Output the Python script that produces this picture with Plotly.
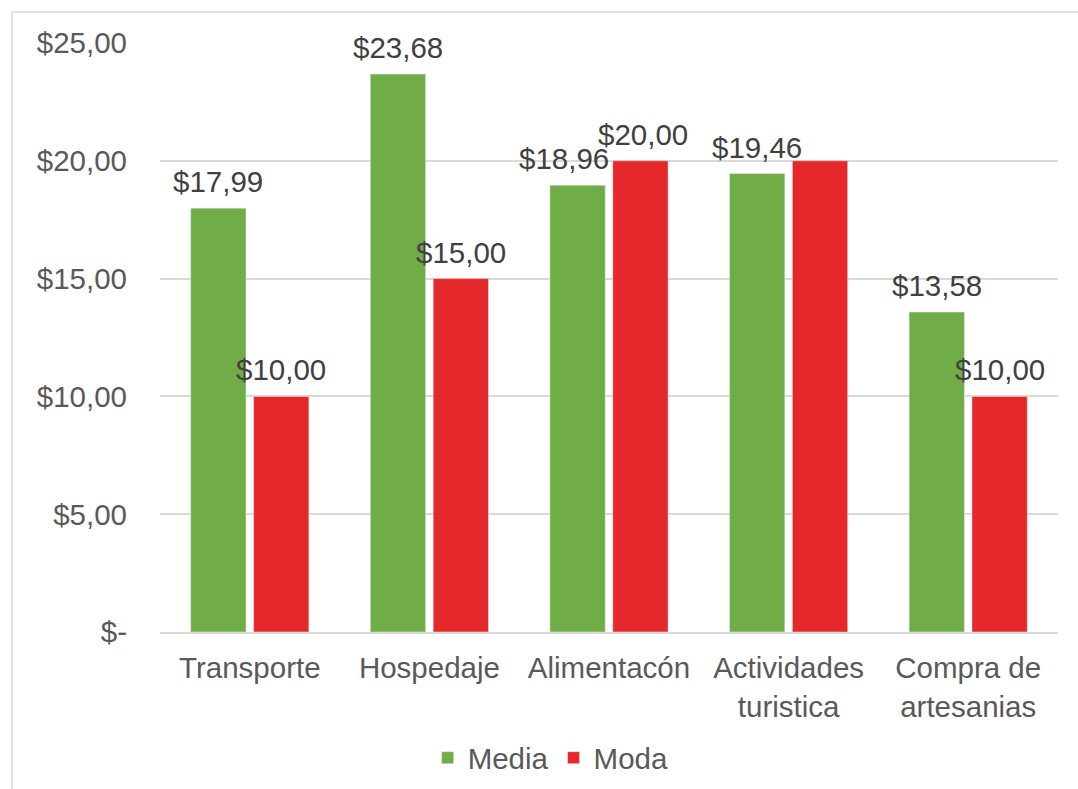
import plotly.graph_objects as go

categories = ["Transporte", "Hospedaje", "Alimentacón", "Actividades<br>turistica", "Compra de<br>artesanias"]
media = [17.99, 23.68, 18.96, 19.46, 13.58]
moda = [10.00, 15.00, 20.00, 20.00, 10.00]
moda_label_shown = [True, True, True, False, True]
tick_vals = [0, 5, 10, 15, 20, 25]
tick_text = ["$-", "$5,00", "$10,00", "$15,00", "$20,00", "$25,00"]

def fmt(v):
    return "$" + f"{v:.2f}".replace(".", ",")

FONT = "Liberation Sans, Arial, sans-serif"
FS = 29.5
GREEN = "#70AD47"
RED = "#E5282A"

W, H = 1078, 789
L, R, T, B = 160, 20, 43, 157
pw, ph = W - L - R, H - T - B

BARGAP, GROUPGAP = 0.30, 0.12
slot_px = pw / len(categories) * (1 - BARGAP) / 2
offset_px = slot_px / 2

fig = go.Figure()
fig.add_trace(go.Bar(x=categories, y=media, name="Media", marker_color=GREEN))
fig.add_trace(go.Bar(x=categories, y=moda, name="Moda", marker_color=RED))

# label nudge to avoid overlap (style only)
nudge = {("Media", 2): -14, ("Moda", 2): 3}

annotations = []
for i, (c, v) in enumerate(zip(categories, media)):
    annotations.append(dict(x=c, y=v, text=fmt(v), showarrow=False, xref="x", yref="y",
                            yanchor="bottom", xshift=-offset_px + nudge.get(("Media", i), 0), yshift=8,
                            font=dict(size=FS, color="#404040", family=FONT)))
for i, (c, v, s) in enumerate(zip(categories, moda, moda_label_shown)):
    if s:
        annotations.append(dict(x=c, y=v, text=fmt(v), showarrow=False, xref="x", yref="y",
                                yanchor="bottom", xshift=offset_px + nudge.get(("Moda", i), 0), yshift=8,
                                font=dict(size=FS, color="#404040", family=FONT)))

fig.update_layout(
    width=W, height=H,
    margin=dict(l=L, r=R, t=T, b=B, autoexpand=False),
    paper_bgcolor="white", plot_bgcolor="white",
    barmode="group", bargap=BARGAP, bargroupgap=GROUPGAP,
    font=dict(family=FONT, size=FS, color="#595959"),
    showlegend=True,
    legend=dict(orientation="h", x=0.435, xanchor="center", y=(632 - 758) / ph, yanchor="middle",
                font=dict(size=FS, color="#595959"), itemwidth=30, traceorder="normal"),
    xaxis=dict(showgrid=False, showline=True, linecolor="#D9D9D9", linewidth=1.5, automargin=False,
               ticks="", ticklabelstandoff=9, tickfont=dict(size=FS, color="#595959")),
    yaxis=dict(range=[0, 25], tickvals=tick_vals, ticktext=tick_text, showgrid=True, automargin=False,
               gridcolor="#D9D9D9", gridwidth=1.5, zeroline=False, showline=False,
               ticks="", ticklabelstandoff=32, tickfont=dict(size=FS, color="#595959")),
    annotations=annotations,
    shapes=[dict(type="rect", xref="paper", yref="paper",
                 x0=(12 - L) / pw, x1=(W + 20 - L) / pw,
                 y0=(632 - (H + 20)) / ph, y1=1 + (T - 12) / ph,
                 line=dict(color="#D9D9D9", width=1.5), fillcolor="rgba(0,0,0,0)", layer="below")],
)

fig.write_html("out.html")
